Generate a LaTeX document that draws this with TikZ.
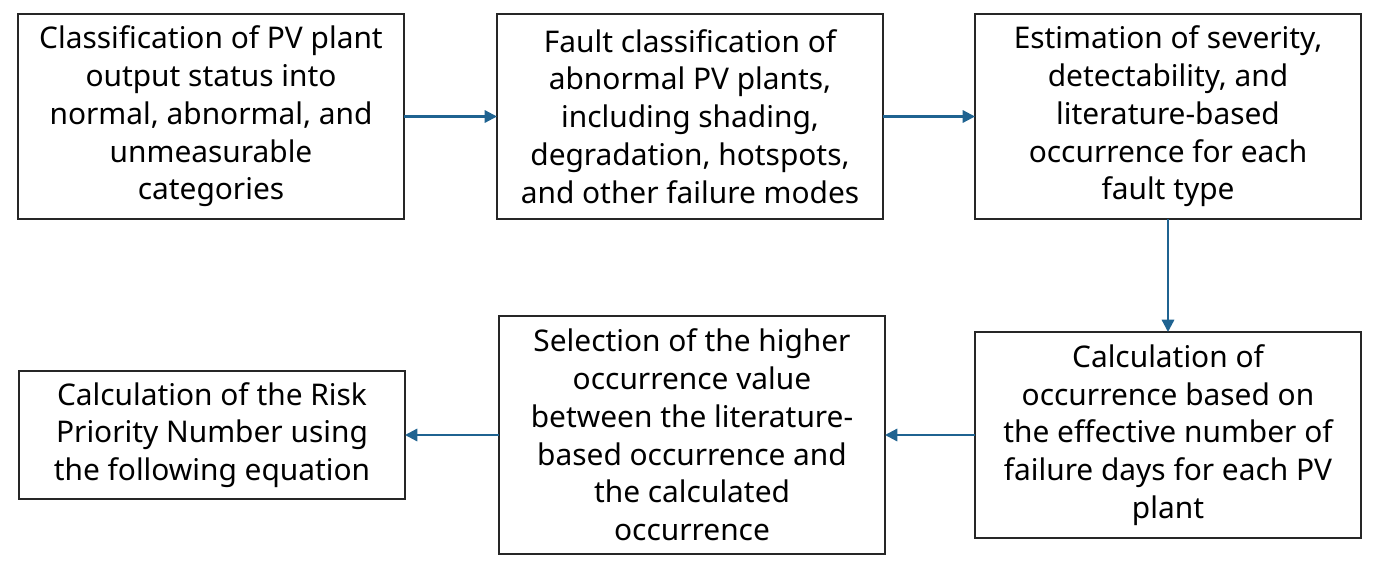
\documentclass[tikz,border=0pt]{standalone}
\usepackage{fontspec}
\setmainfont{Noto Sans}
\usetikzlibrary{positioning,arrows.meta}

\tikzset{
  stepbox/.style={draw=black!85, line width=0.9pt, minimum width=7.72cm, align=center,
    font=\fontsize{17}{21.5}\selectfont, inner sep=0pt, outer sep=0pt},
  flow/.style={draw={rgb,255:red,31;green,99;blue,145}, line width=1.3pt,
    -{Triangle[length=7pt,width=7pt]}}
}

\begin{document}
\begin{tikzpicture}
      \useasboundingbox (0,0) rectangle (27.56,11.42);
      % Define nodes
      \node[stepbox, minimum height=4.1cm] at (4.22,9.09) (status)
        {Classification of PV plant\\output status into\\normal, abnormal, and\\unmeasurable\\categories};
      \node[stepbox, minimum height=4.1cm, right=1.86cm of status] (fault)
        {Fault classification of\\abnormal PV plants,\\including shading,\\degradation, hotspots,\\and other failure modes};
      \node[stepbox, minimum height=4.1cm, right=1.84cm of fault] (estim)
        {Estimation of severity,\\detectability, and\\literature-based\\occurrence for each\\fault type};
      \node[stepbox, minimum height=4.12cm, below=2.26cm of estim] (calc)
        {Calculation of\\occurrence based on\\the effective number of\\failure days for each PV\\plant};
      \node[stepbox, minimum height=4.76cm, left=1.8cm of calc] (select)
        {Selection of the higher\\occurrence value\\between the literature-\\based occurrence and\\the calculated\\occurrence};
      \node[stepbox, minimum height=2.56cm, left=1.88cm of select] (rpn)
        {Calculation of the Risk\\Priority Number using\\the following equation};
      % Connect nodes
      \draw[flow] (status) -- (fault);
      \draw[flow] (fault) -- (estim);
      \draw[flow] (estim) -- (calc);
      \draw[flow] (calc) -- (select);
      \draw[flow] (select) -- (rpn);
\end{tikzpicture}
\end{document}
